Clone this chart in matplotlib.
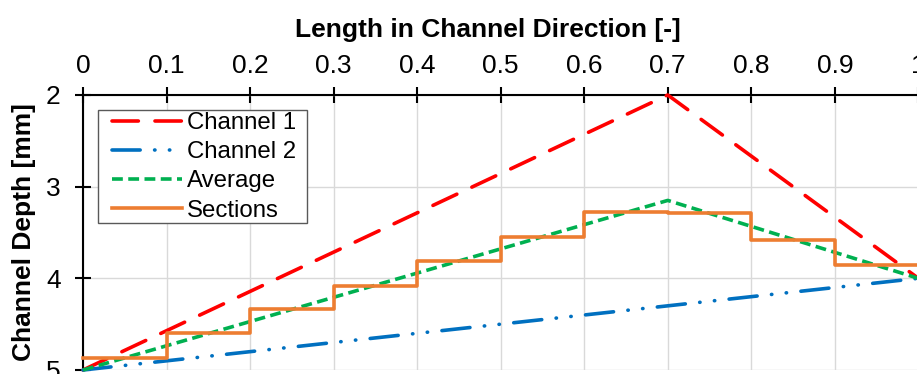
import matplotlib.pyplot as plt
from matplotlib.patches import Rectangle

plt.rcParams['font.family'] = ['Liberation Sans', 'DejaVu Sans']

# channel depth along the normalised channel length
length = [0, 0.7, 1.0]
channel_1 = [5.0, 2.0, 4.0]
channel_2 = [5.0, 4.3, 4.0]
average = [5.0, 3.15, 4.0]

# stepped sections, one depth per tenth of the length
section_edges = [0, 0.1, 0.2, 0.3, 0.4, 0.5, 0.6, 0.7, 0.8, 0.9, 1.0]
section_depth = [4.87, 4.60, 4.34, 4.08, 3.81, 3.55, 3.28, 3.29, 3.58, 3.86]

x_ticks = [0, 0.1, 0.2, 0.3, 0.4, 0.5, 0.6, 0.7, 0.8, 0.9, 1]
x_labels = ['0', '0.1', '0.2', '0.3', '0.4', '0.5', '0.6', '0.7', '0.8', '0.9', '1']
y_ticks = [2, 3, 4, 5]

fig = plt.figure(figsize=(9.17, 3.74), dpi=100)
ax = fig.add_axes([0.0905, 0.0107, 0.911, 0.7353])

lw = 2.6
ax.plot(length, channel_1, color='#ff0000', lw=lw, dashes=(7.3, 4.6),
        dash_capstyle='round', label='Channel 1', clip_on=False, zorder=3)
ax.plot(length, channel_2, color='#0070c0', lw=lw,
        dashes=(7.8, 4.0, 0.1, 4.0, 0.1, 4.0), dash_capstyle='round',
        label='Channel 2', clip_on=False, zorder=3)
ax.plot(length, average, color='#00b050', lw=lw, dashes=(3.0, 1.5),
        label='Average', clip_on=False, zorder=4)
ax.plot(section_edges, section_depth + [section_depth[-1]], color='#ed7d31',
        lw=lw, drawstyle='steps-post', label='Sections', clip_on=False, zorder=5)

ax.set_xlim(0, 1)
ax.set_ylim(5, 2)
ax.set_xticks(x_ticks)
ax.set_xticklabels(x_labels)
ax.set_yticks(y_ticks)

ax.xaxis.tick_top()
ax.xaxis.set_label_position('top')
ax.tick_params(axis='both', direction='inout', length=11, width=1.5,
               labelsize=19, colors='black')
ax.tick_params(axis='x', pad=6.5)
ax.tick_params(axis='y', pad=10.5)

for side in ['bottom', 'right']:
    ax.spines[side].set_visible(False)
for side in ['top', 'left']:
    ax.spines[side].set_linewidth(1.5)

ax.grid(True, color='#d9d9d9', lw=1.0, zorder=0)
ax.set_axisbelow(True)

ax.set_xlabel('Length in Channel Direction [-]', fontsize=19, fontweight='bold')
ax.xaxis.set_label_coords(0.485, 1.21)
ax.set_ylabel('Channel Depth [mm]', fontsize=19, fontweight='bold')
ax.yaxis.set_label_coords(-0.056, 0.5)

# legend box drawn separately so the padding can differ per side
box = Rectangle((0.018, 0.535), 0.25, 0.41, transform=ax.transAxes,
                facecolor='white', edgecolor='#595959', lw=1.0,
                clip_on=False, zorder=6)
ax.add_patch(box)
leg = ax.legend(loc='upper left', bbox_to_anchor=(0.0344, 0.938), fontsize=17.3,
                handlelength=2.91, handletextpad=0.22, labelspacing=0.3,
                borderpad=0, borderaxespad=0, frameon=False)
leg.set_zorder(7)

fig.savefig('out.png', dpi=100)
